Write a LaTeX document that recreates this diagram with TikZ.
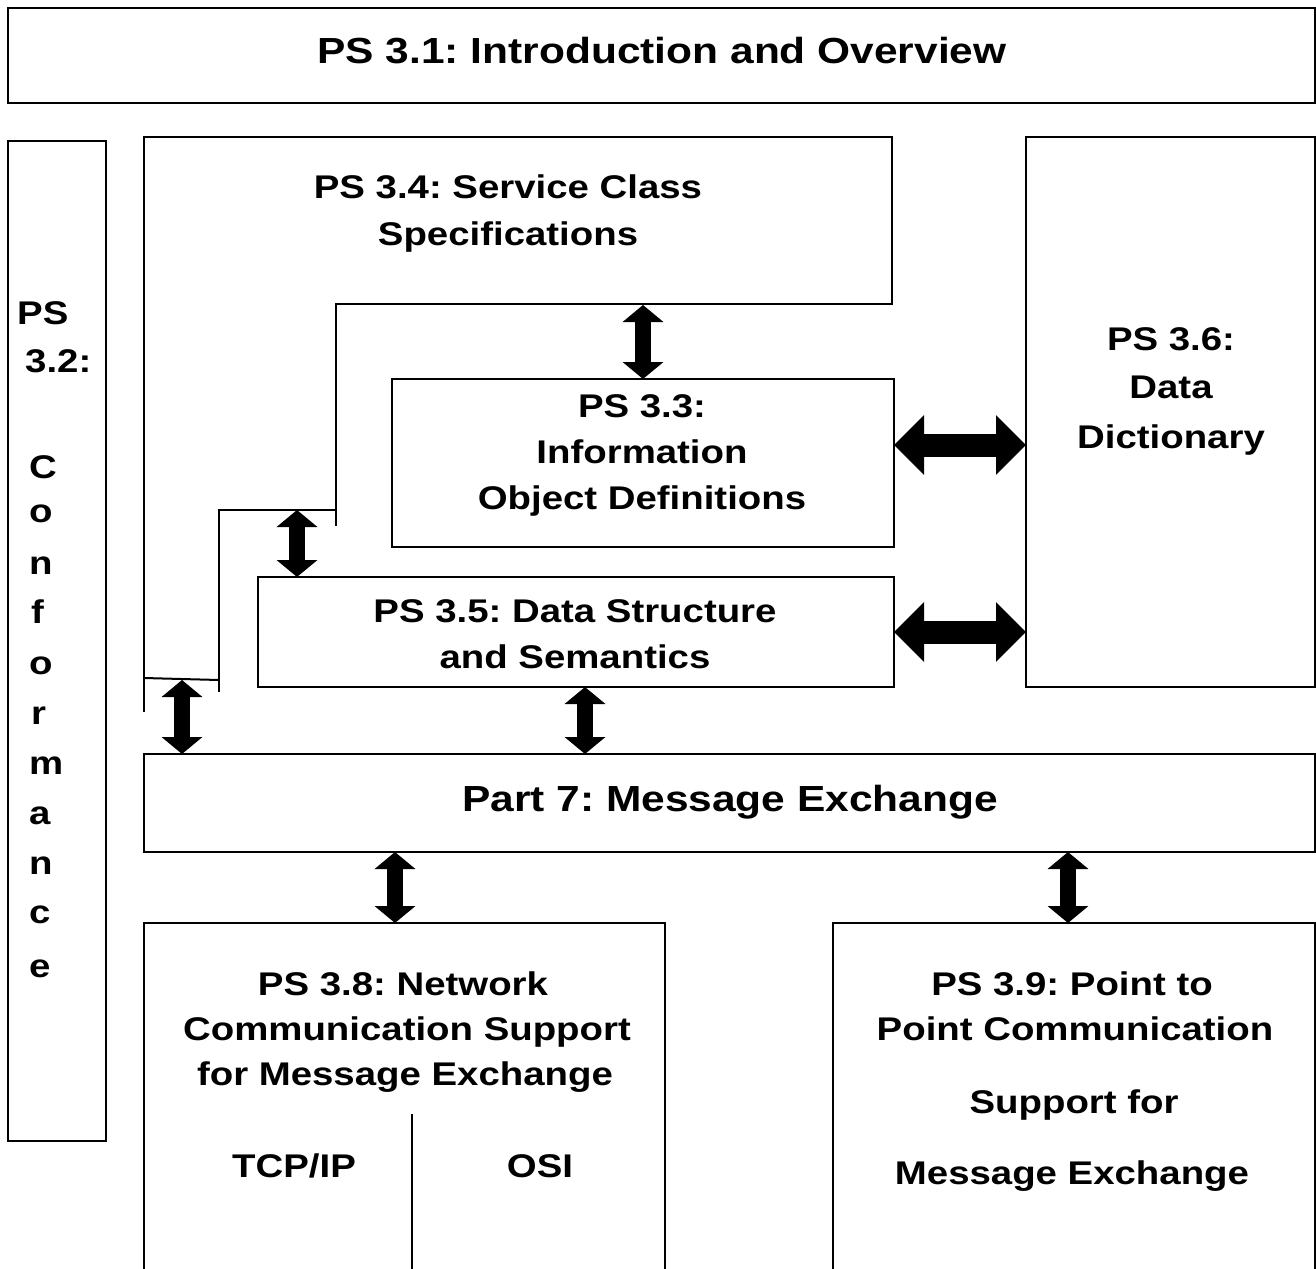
\documentclass[tikz,border=0pt]{standalone}
\usepackage{fontspec}
\setmainfont{Liberation Sans}[FakeStretch=1.17]
\usetikzlibrary{arrows.meta}
\frenchspacing
\begin{document}
\frenchspacing
\begin{tikzpicture}[x=1pt,y=-1pt,
  box/.style={draw, line width=2pt, inner sep=0pt, outer sep=0pt, anchor=north west},
  edge/.style={line width=2pt},
  txt/.style={font=\fontsize{32.8}{40}\selectfont\bfseries, anchor=base, inner sep=0pt},
  ltr/.style={font=\fontsize{32.8}{40}\selectfont\bfseries, anchor=base west, inner sep=0pt},
  big/.style={font=\fontsize{36.3}{42}\selectfont\bfseries, anchor=base, inner sep=0pt},
  dbl/.style={line width=16pt, {Triangle[width=40pt,length=17pt]}-{Triangle[width=40pt,length=17pt]}},
  dblh/.style={line width=23pt, {Triangle[width=58pt,length=30pt]}-{Triangle[width=58pt,length=30pt]}},
]
\useasboundingbox (0,0) rectangle (1316,1268);

% boxes
\node[box, minimum width=1307pt, minimum height=95pt] (p1) at (8,8) {};
\node[box, minimum width=98pt, minimum height=1000pt] (p2) at (8,141) {};
\node[box, minimum width=502pt, minimum height=168pt] (p3) at (392,379) {};
\node[box, minimum width=636pt, minimum height=110pt] (p5) at (258,577) {};
\node[box, minimum width=289pt, minimum height=550pt] (p6) at (1026,137) {};
\node[box, minimum width=1171pt, minimum height=98pt] (p7) at (144,754) {};

% PS 3.4 outline
\draw[edge] (144,712) -- (144,137) -- (892,137) -- (892,304) -- (336,304) -- (336,526);
\draw[edge] (336,510) -- (219,510) -- (219,692);
\draw[edge] (144,678) -- (219,680);

% PS 3.8 and PS 3.9 (open at the bottom)
\coordinate (p8) at (395,923);
\coordinate (p9) at (1068,923);
\draw[edge] (144,1270) -- (144,923) -- (665,923) -- (665,1270);
\draw[edge, line width=1.5pt] (412,1114) -- (412,1270);
\draw[edge] (833,1270) -- (833,923) -- (1315,923) -- (1315,1270);

% texts
\node[big] (t1) at (662,64) {PS 3.1: Introduction and Overview};

\node[ltr] (t2a) at (17,324) {PS};
\node[ltr] (t2b) at (25,372) {3.2:};
\node[ltr] (t2c) at (29,478) {C};
\node[ltr] (t2d) at (29,522) {o};
\node[ltr] (t2e) at (29,574) {n};
\node[ltr] (t2f) at (31,623) {f};
\node[ltr] (t2g) at (29,674) {o};
\node[ltr] (t2h) at (31,724) {r};
\node[ltr] (t2i) at (29,774) {m};
\node[ltr] (t2j) at (29,824) {a};
\node[ltr] (t2k) at (29,874) {n};
\node[ltr] (t2l) at (29,923) {c};
\node[ltr] (t2m) at (29,977) {e};

\node[txt] (t4a) at (508,199) {PS 3.4: Service Class};
\node[txt] (t4b) at (508,245) {Specifications};

\node[txt] (t3a) at (642,417) {PS 3.3:};
\node[txt] (t3b) at (642,463) {Information};
\node[txt] (t3c) at (642,509) {Object Definitions};

\node[txt] (t5a) at (575,622) {PS 3.5: Data Structure};
\node[txt] (t5b) at (575,668) {and Semantics};

\node[txt] (t6a) at (1171,350) {PS 3.6:};
\node[txt] (t6b) at (1171,398) {Data};
\node[txt] (t6c) at (1171,448) {Dictionary};

\node[big] (t7) at (730,811) {Part 7: Message Exchange};

\node[txt] (t8a) at (403,995) {PS 3.8: Network};
\node[txt] (t8b) at (407,1040) {Communication Support};
\node[txt] (t8c) at (405,1085) {for Message Exchange};
\node[txt] (t8d) at (294,1177) {TCP/IP};
\node[txt] (t8e) at (540,1177) {OSI};

\node[txt] (t9a) at (1072,995) {PS 3.9: Point to};
\node[txt] (t9b) at (1075,1040) {Point Communication};
\node[txt] (t9c) at (1074,1113) {Support for};
\node[txt] (t9d) at (1072,1184) {Message Exchange};

% connectors
\coordinate (c34) at (643,305);
\coordinate (c45) at (297,510);
\coordinate (c47) at (182,680);
\coordinate (x57) at (585,0);
\coordinate (y36) at (0,445);
\coordinate (y56) at (0,632);
\draw[dbl] (c34) -- (c34 |- p3.north);
\draw[dbl] (c45) -- (c45 |- p5.north);
\draw[dbl] (c47) -- (c47 |- p7.north);
\draw[dbl] (x57 |- p5.south) -- (x57 |- p7.north);
\draw[dbl] (p8 |- p7.south) -- (p8);
\draw[dbl] (p9 |- p7.south) -- (p9);
\draw[dblh] (p3.east |- y36) -- (p6.west |- y36);
\draw[dblh] (p5.east |- y56) -- (p6.west |- y56);
\end{tikzpicture}
\end{document}
